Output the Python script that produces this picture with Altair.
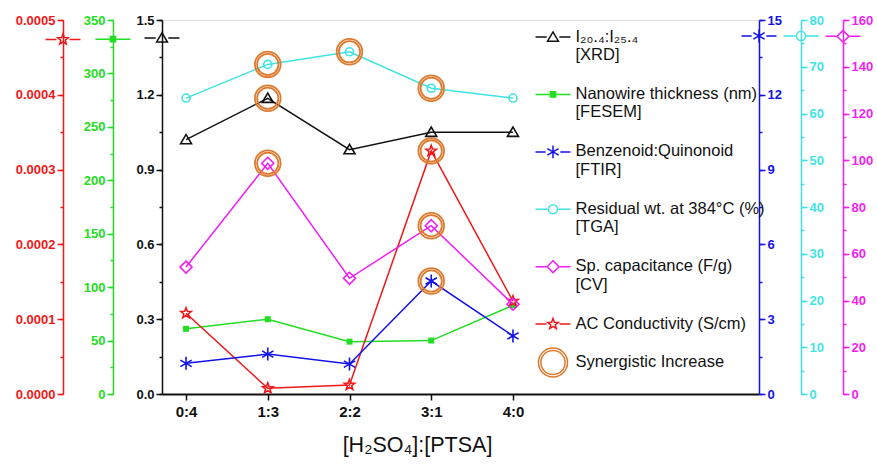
import json
import math
import altair as alt
import pandas as pd

# ---------------- data ----------------
categories = ["0:4", "1:3", "2:2", "3:1", "4:0"]
xrd_ratio = [1.02, 1.186, 0.98, 1.05, 1.05]
nanowire_nm = [61, 70, 49, 50, 83]
benz_quin = [1.23, 1.60, 1.20, 4.53, 2.33]
residual_wt = [63.3, 70.5, 73.2, 65.4, 63.3]
sp_capacitance = [54.3, 98.7, 49.5, 72.0, 38.4]
ac_conductivity = [0.000108, 0.0000076, 0.000012, 0.000325, 0.000124]

syn_xrd = [False, True, False, False, False]
syn_nanowire = [False, False, False, False, False]
syn_benz = [False, False, False, True, False]
syn_residual = [False, True, True, True, False]
syn_cap = [False, True, False, True, False]
syn_cond = [False, False, False, True, False]

legend_labels = [
    "I₂₀.₄:I₂₅.₄|[XRD]",
    "Nanowire thickness (nm)|[FESEM]",
    "Benzenoid:Quinonoid|[FTIR]",
    "Residual wt. at 384°C (%)|[TGA]",
    "Sp. capacitance (F/g)|[CV]",
    "AC Conductivity (S/cm)",
    "Synergistic Increase",
]
x_title = "[H₂SO₄]:[PTSA]"

# ---------------- style ----------------
BLACK = "#111111"
GREEN = "#22DD22"
BLUE = "#1212E8"
CYAN = "#3FE3E3"
MAGENTA = "#F21EF2"
RED = "#F01818"
ORANGE = "#DE7A2E"
FONT = "Liberation Sans"

W, H = 597, 374
LEG_SHIFT = 0.49  # legend symbols drawn level with the first label line


def f(v):
    return f"{v:.3f}"


def tri(s, c=0.0):
    return f"M{f(-s)},{f(c+0.75*s)}L0,{f(c-0.95*s)}L{f(s)},{f(c+0.75*s)}Z"


def sq(s, c=0.0):
    return f"M{f(-s)},{f(c-s)}H{f(s)}V{f(c+s)}H{f(-s)}Z"


def ast(s, c=0.0):
    return (f"M0,{f(c-s)}V{f(c+s)}M{f(-0.87*s)},{f(c-0.5*s)}L{f(0.87*s)},{f(c+0.5*s)}"
            f"M{f(-0.87*s)},{f(c+0.5*s)}L{f(0.87*s)},{f(c-0.5*s)}")


def circ(s, c=0.0):
    return f"M{f(s)},{f(c)}A{f(s)},{f(s)} 0 1,1 {f(-s)},{f(c)}A{f(s)},{f(s)} 0 1,1 {f(s)},{f(c)}Z"


def dia(s, c=0.0):
    return f"M0,{f(c-s)}L{f(s)},{f(c)}L0,{f(c+s)}L{f(-s)},{f(c)}Z"


def star(s, c=0.0):
    pts = []
    for i in range(10):
        a = -math.pi / 2 + i * math.pi / 5
        r = s if i % 2 == 0 else 0.42 * s
        pts.append(f"{f(r*math.cos(a))},{f(c + r*math.sin(a))}")
    return "M" + "L".join(pts) + "Z"


def with_line(marker_fn, s, c=0.0):
    g = s + 0.05
    return f"M-1,{f(c)}H{f(-g)}M{f(g)},{f(c)}H1" + marker_fn(s, c)


series = [
    dict(vals=xrd_ratio, syn=syn_xrd, color=BLACK, dom=[0, 1.5], major=[0, 0.3, 0.6, 0.9, 1.2, 1.5],
         minor=0.15, fmt=".1f", orient="left", off=0, mfn=tri, shape=tri(1.0), msize=121, mfill=False,
         ls=0.31, level=1.428),
    dict(vals=nanowire_nm, syn=syn_nanowire, color=GREEN, dom=[0, 350], major=list(range(0, 351, 50)),
         minor=25, fmt="d", orient="left", off=49, mfn=sq, shape="square", msize=36, mfill=True,
         ls=0.15, level=332),
    dict(vals=ac_conductivity, syn=syn_cond, color=RED, dom=[0, 0.0005],
         major=[0, 0.0001, 0.0002, 0.0003, 0.0004, 0.0005],
         minor=0.00005, fmt=".4f", orient="left", off=99, mfn=star, shape=star(1.0), msize=121,
         mfill=False, ls=0.32, level=0.000474),
    dict(vals=benz_quin, syn=syn_benz, color=BLUE, dom=[0, 15], major=[0, 3, 6, 9, 12, 15],
         minor=1.5, fmt="d", orient="right", off=0, mfn=ast, shape=ast(1.0), msize=169, mfill=False,
         ls=0.37, level=14.36),
    dict(vals=residual_wt, syn=syn_residual, color=CYAN, dom=[0, 80], major=list(range(0, 81, 10)),
         minor=5, fmt="d", orient="right", off=42, mfn=circ, shape="circle", msize=64, mfill=False,
         ls=0.26, level=76.6),
    dict(vals=sp_capacitance, syn=syn_cap, color=MAGENTA, dom=[0, 160], major=list(range(0, 161, 20)),
         minor=10, fmt="d", orient="right", off=84, mfn=dia, shape=dia(1.0), msize=144, mfill=False,
         ls=0.34, level=153),
]

x_scale = alt.Scale(domain=[-0.294, 7.01], nice=False, zero=False)
x_axis = alt.Axis(
    values=list(range(len(categories))),
    labelExpr=f"{json.dumps(categories)}[datum.value]",
    tickSize=6, tickWidth=1.5, tickColor=BLACK, domainColor=BLACK, domainWidth=2,
    labelFontSize=15, labelFontWeight="bold", labelColor=BLACK, labelPadding=4, labelFont=FONT,
    labelFlush=False, grid=False,
    title=x_title, titleFontSize=21.5, titleFontWeight="normal", titleFont=FONT, titleColor=BLACK,
    titleX=255, titleY=51, titleBaseline="middle", titleAlign="center",
)
X = alt.X("idx:Q", scale=x_scale, axis=x_axis)

layers = []

for s in series:
    df = pd.DataFrame({"idx": list(range(5)), "v": s["vals"], "syn": s["syn"]})
    base = alt.Chart(df)

    def ysc():
        return alt.Scale(domain=s["dom"], nice=False, zero=False)

    # minor ticks
    lo, hi = s["dom"]
    n = int(round((hi - lo) / s["minor"]))
    minor_vals = [lo + i * s["minor"] for i in range(n + 1)]
    ax_minor = alt.Axis(orient=s["orient"], offset=s["off"], values=minor_vals, labels=False, domain=False,
                        tickSize=3, tickWidth=1.5, tickColor=s["color"], grid=False, title=None)
    layers.append(base.mark_point(opacity=0).encode(x=X, y=alt.Y("v:Q", scale=ysc(), axis=ax_minor)))

    # major axis
    ax_major = alt.Axis(orient=s["orient"], offset=s["off"], values=s["major"], format=s["fmt"],
                        labelColor=s["color"], domainColor=s["color"], tickColor=s["color"],
                        tickSize=6, tickWidth=1.5, domainWidth=1.5, labelPadding=2,
                        labelFontSize=13, labelFontWeight="bold", labelFont=FONT,
                        labelFlush=False, labelOverlap=False, grid=False, title=None)
    layers.append(base.mark_point(opacity=0).encode(x=X, y=alt.Y("v:Q", scale=ysc(), axis=ax_major)))

for s in series:
    df = pd.DataFrame({"idx": list(range(5)), "v": s["vals"], "syn": s["syn"]})
    base = alt.Chart(df)
    Y_no = alt.Y("v:Q", scale=alt.Scale(domain=s["dom"], nice=False, zero=False), axis=None)
    layers.append(base.mark_line(color=s["color"], strokeWidth=1.5).encode(x=X, y=Y_no))
    layers.append(base.mark_point(shape=s["shape"], size=s["msize"], filled=s["mfill"], color=s["color"],
                                  strokeWidth=1.6, opacity=1).encode(x=X, y=Y_no))
    syn = base.transform_filter("datum.syn")
    for sz in (660, 452):
        layers.append(syn.mark_point(shape="circle", size=sz, color=ORANGE, strokeWidth=1.8,
                                     opacity=1).encode(x=X, y=Y_no))
    # axis identification marker at the top of each axis
    axis_px = -s["off"] if s["orient"] == "left" else W + s["off"]
    mk_kwargs = dict(shape=with_line(s["mfn"], s["ls"]), size=1225, filled=False, stroke=s["color"],
                     strokeWidth=1.5, opacity=1)
    if s["mfill"]:
        mk_kwargs["fill"] = s["color"]
    layers.append(
        alt.Chart(pd.DataFrame({"v": [s["level"]]})).mark_point(**mk_kwargs).encode(x=alt.value(axis_px), y=Y_no)
    )

# legend order: XRD, nanowire, benz, residual, cap, cond, synergy
order = [0, 1, 3, 4, 5, 2]
leg_strokes = [series[i]["color"] for i in order] + [ORANGE]
leg_shapes = [with_line(series[i]["mfn"], series[i]["ls"], LEG_SHIFT) for i in order] + \
             [circ(0.83, LEG_SHIFT) + circ(0.69, LEG_SHIFT)]
leg_fills = ["transparent", GREEN, "transparent", "transparent", "transparent", "transparent", "transparent"]

legend = alt.Legend(
    title=None, orient="none", legendX=372.5, legendY=-10, direction="vertical", padding=0,
    symbolSize=1225, symbolStrokeWidth=1.5, symbolOpacity=1,
    labelFont=FONT, labelFontSize=16.5, labelColor=BLACK, labelLimit=400, labelOffset=4,
    labelBaseline="top", labelExpr="split(datum.label, '|')", rowPadding=3.4,
)
leg_df = pd.DataFrame({"key": legend_labels})
layers.append(
    alt.Chart(leg_df).mark_point(opacity=0, filled=False).encode(
        color=alt.Color("key:N", scale=alt.Scale(domain=legend_labels, range=leg_strokes), legend=legend),
        shape=alt.Shape("key:N", scale=alt.Scale(domain=legend_labels, range=leg_shapes), legend=legend),
        fill=alt.Fill("key:N", scale=alt.Scale(domain=legend_labels, range=leg_fills), legend=legend),
    )
)

chart = alt.layer(*layers).resolve_scale(y="independent").properties(
    width=W, height=H,
    autosize=alt.AutoSizeParams(type="none"),
    padding={"left": 162, "top": 20, "right": 118, "bottom": 70},
).configure_view(stroke="#222222", strokeWidth=2).configure(background="white")

chart.save("out.html", embed_options={"renderer": "svg", "actions": False})
